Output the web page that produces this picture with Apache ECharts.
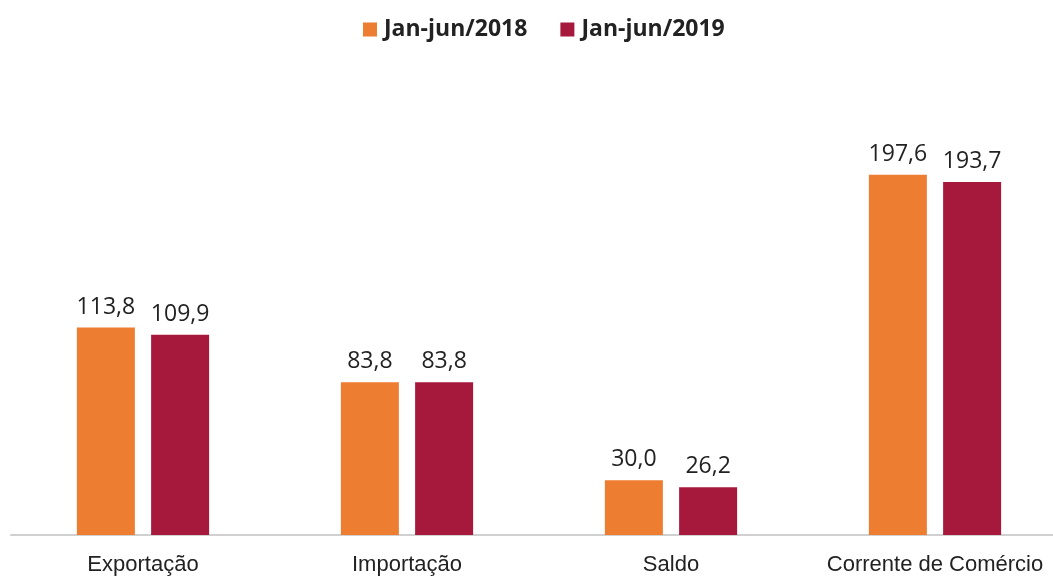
<!DOCTYPE html>
<html>
<head>
<meta charset="utf-8">
<script src="https://cdn.jsdelivr.net/npm/echarts@6/dist/echarts.min.js"></script>
<style>
  html, body { margin: 0; padding: 0; background: #fff; }
  #chart { width: 1053px; height: 576px; }
</style>
</head>
<body>
<div id="chart"></div>
<script>
const categories = ['Exportação', 'Importação', 'Saldo', 'Corrente de Comércio']
const seriesNames = ['Jan-jun/2018', 'Jan-jun/2019']
const values2018 = [113.8, 83.8, 30.0, 197.6]
const values2019 = [109.9, 83.8, 26.2, 193.7]

const myChart = echarts.init(document.getElementById('chart'))

function fmt(p) {
  return p.value.toFixed(1).replace('.', ',')
}

const valueLabel = {
  show: true,
  position: 'top',
  distance: 9,
  color: '#222',
  fontSize: 23,
  fontFamily: 'Open Sans',
  formatter: fmt
}

myChart.setOption({
  animation: false,
  legend: {
    top: 13,
    left: 358,
    itemWidth: 14,
    itemHeight: 14,
    itemGap: 33,
    icon: 'rect',
    textStyle: {
      color: '#222',
      fontSize: 23,
      fontWeight: 'bold',
      fontFamily: 'Open Sans',
      padding: [0, 0, 0, 2]
    },
    data: seriesNames
  },
  grid: {
    outerBoundsMode: 'none',
    top: 134,
    bottom: 41,
    left: 11,
    width: 1056
  },
  xAxis: {
    type: 'category',
    data: categories,
    axisLine: { show: true, lineStyle: { color: '#d0d0d0', width: 2 } },
    axisTick: { show: false },
    axisLabel: {
      interval: 0,
      hideOverlap: false,
      color: '#222',
      fontSize: 22,
      fontFamily: 'Liberation Sans',
      margin: 19
    }
  },
  yAxis: {
    type: 'value',
    min: 0,
    max: 220,
    show: false,
    splitLine: { show: false }
  },
  series: [{
    name: seriesNames[0],
    type: 'bar',
    barWidth: 58,
    barGap: '28%',
    itemStyle: { color: '#ED7D31' },
    label: valueLabel,
    data: values2018
  }, {
    name: seriesNames[1],
    type: 'bar',
    barWidth: 58,
    itemStyle: { color: '#A6193C' },
    label: valueLabel,
    data: values2019
  }]
})
</script>
</body>
</html>
